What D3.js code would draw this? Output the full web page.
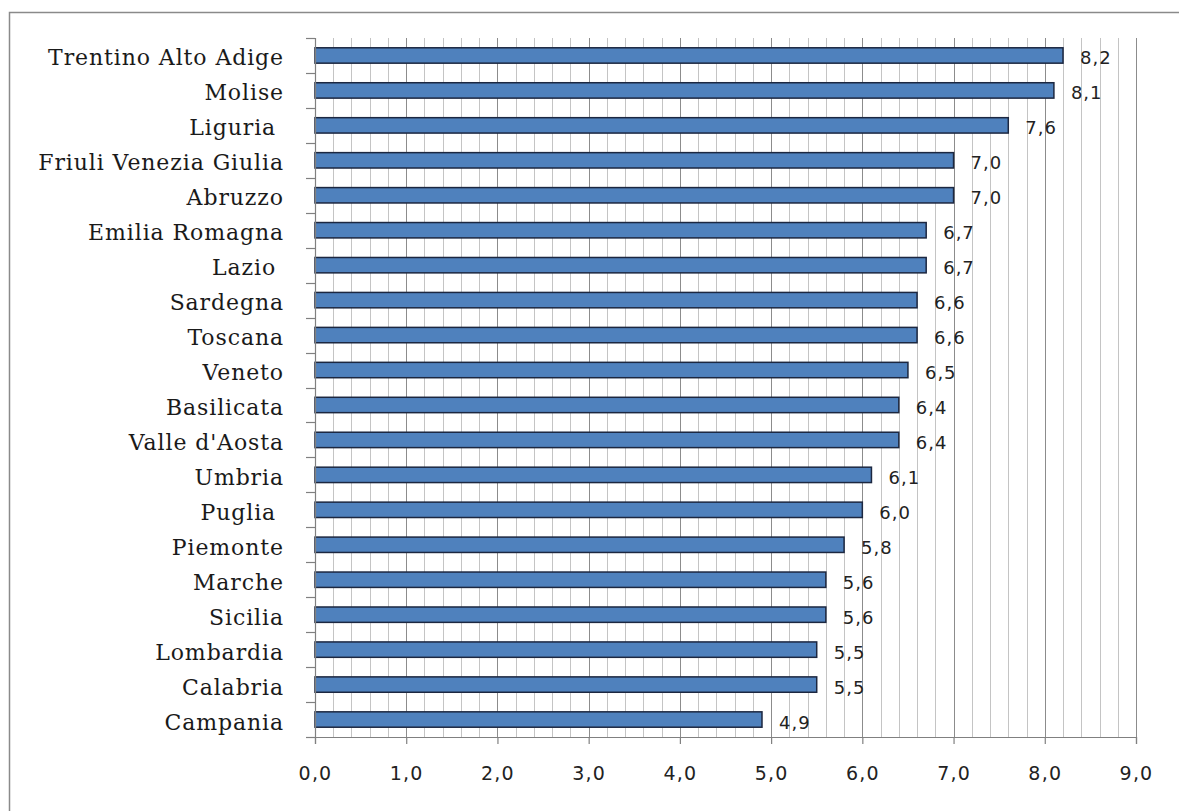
<!DOCTYPE html>
<html>
<head>
<meta charset="utf-8">
<script src="https://cdn.jsdelivr.net/npm/d3@7"></script>
<style>
  html, body { margin: 0; padding: 0; background: #fff; }
  svg { display: block; }
  text { white-space: pre; }
</style>
</head>
<body>
<svg id="chart" width="1179" height="811"></svg>
<script>
// Regions, top to bottom
const regions = [
  "Trentino Alto Adige", "Molise", "Liguria ", "Friuli Venezia Giulia", "Abruzzo",
  "Emilia Romagna", "Lazio ", "Sardegna", "Toscana", "Veneto",
  "Basilicata", "Valle d'Aosta", "Umbria", "Puglia ", "Piemonte",
  "Marche", "Sicilia", "Lombardia", "Calabria", "Campania"
];
const values = [
  8.2, 8.1, 7.6, 7.0, 7.0,
  6.7, 6.7, 6.6, 6.6, 6.5,
  6.4, 6.4, 6.1, 6.0, 5.8,
  5.6, 5.6, 5.5, 5.5, 4.9
];
const xMajorTicks = [0, 1, 2, 3, 4, 5, 6, 7, 8, 9];
const xMinorTicks = d3.range(0, 45).map(i => i / 5);

const svg = d3.select("#chart");
const margin = { left: 315, right: 43, top: 38, bottom: 74 };
const W = 1179, H = 811;
const innerW = W - margin.left - margin.right;
const innerH = H - margin.top - margin.bottom;

// Outer frame
svg.append("rect")
  .attr("x", 9.5).attr("y", 12.5)
  .attr("width", 1300).attr("height", 1000)
  .attr("fill", "#fff").attr("stroke", "#8a8a8a").attr("stroke-width", 1.5);

const g = svg.append("g").attr("transform", `translate(${margin.left},${margin.top})`);

const x = d3.scaleLinear().domain([0, 9]).range([0, innerW]);
const y = d3.scaleBand().domain(regions).range([0, innerH]).paddingInner(0.56).paddingOuter(0.28);

const fmt = v => d3.format(".1f")(v).replace(".", ",");

// Minor gridlines
g.append("g").selectAll("line")
  .data(xMinorTicks.filter(t => Math.abs(t - Math.round(t)) > 1e-6))
  .join("line")
  .attr("x1", d => Math.round(x(d)) + 0.5).attr("x2", d => Math.round(x(d)) + 0.5)
  .attr("y1", 0).attr("y2", innerH)
  .attr("stroke", "#c4c4c4").attr("stroke-width", 1);

// Major gridlines
g.append("g").selectAll("line")
  .data(xMajorTicks.slice(1))
  .join("line")
  .attr("x1", d => Math.round(x(d)) + 0.5).attr("x2", d => Math.round(x(d)) + 0.5)
  .attr("y1", 0).attr("y2", innerH)
  .attr("stroke", "#8c8c8c").attr("stroke-width", 1);

// Bars
g.append("g").selectAll("rect")
  .data(regions)
  .join("rect")
  .attr("x", x(0))
  .attr("y", d => y(d))
  .attr("width", (d, i) => x(values[i]) - x(0))
  .attr("height", y.bandwidth())
  .attr("fill", "#4f81bd")
  .attr("stroke", "#1c2740")
  .attr("stroke-width", 1.5);

// Value labels
g.append("g").selectAll("text")
  .data(regions)
  .join("text")
  .attr("x", (d, i) => x(values[i]) + 17)
  .attr("y", d => y(d) + y.bandwidth() / 2 + 9)
  .attr("font-family", "DejaVu Sans, Verdana, sans-serif")
  .attr("font-size", 18)
  .attr("letter-spacing", 1)
  .attr("fill", "#222")
  .text((d, i) => fmt(values[i]));

// Y axis: vertical line, band-boundary ticks, labels
const yBounds = d3.range(0, regions.length + 1).map(i => i * innerH / regions.length);
g.append("line")
  .attr("x1", 0.5).attr("x2", 0.5).attr("y1", 0).attr("y2", innerH)
  .attr("stroke", "#808080").attr("stroke-width", 1.2);
g.append("g").selectAll("line")
  .data(yBounds)
  .join("line")
  .attr("x1", -9).attr("x2", 0)
  .attr("y1", d => Math.round(d) + 0.5).attr("y2", d => Math.round(d) + 0.5)
  .attr("stroke", "#808080").attr("stroke-width", 1.2);
g.append("g").selectAll("text")
  .data(regions)
  .join("text")
  .attr("x", -31)
  .attr("y", d => y(d) + y.bandwidth() / 2 + 10)
  .attr("text-anchor", "end")
  .attr("font-family", "DejaVu Serif, serif")
  .attr("font-size", 22)
  .attr("letter-spacing", 0.9)
  .attr("fill", "#1a1a1a")
  .text(d => d);

// X axis
const xAxis = d3.axisBottom(x)
  .tickValues(xMajorTicks)
  .tickSize(7)
  .tickPadding(23)
  .tickFormat(fmt);
const ax = g.append("g").attr("transform", `translate(0,${innerH})`).call(xAxis);
ax.select(".domain").attr("stroke", "#808080").attr("stroke-width", 1.2);
ax.selectAll(".tick line").attr("stroke", "#808080").attr("stroke-width", 1.2);
ax.selectAll(".tick text")
  .attr("font-family", "DejaVu Sans, Verdana, sans-serif")
  .attr("font-size", 19)
  .attr("letter-spacing", 1.2)
  .attr("fill", "#222");
</script>
</body>
</html>
